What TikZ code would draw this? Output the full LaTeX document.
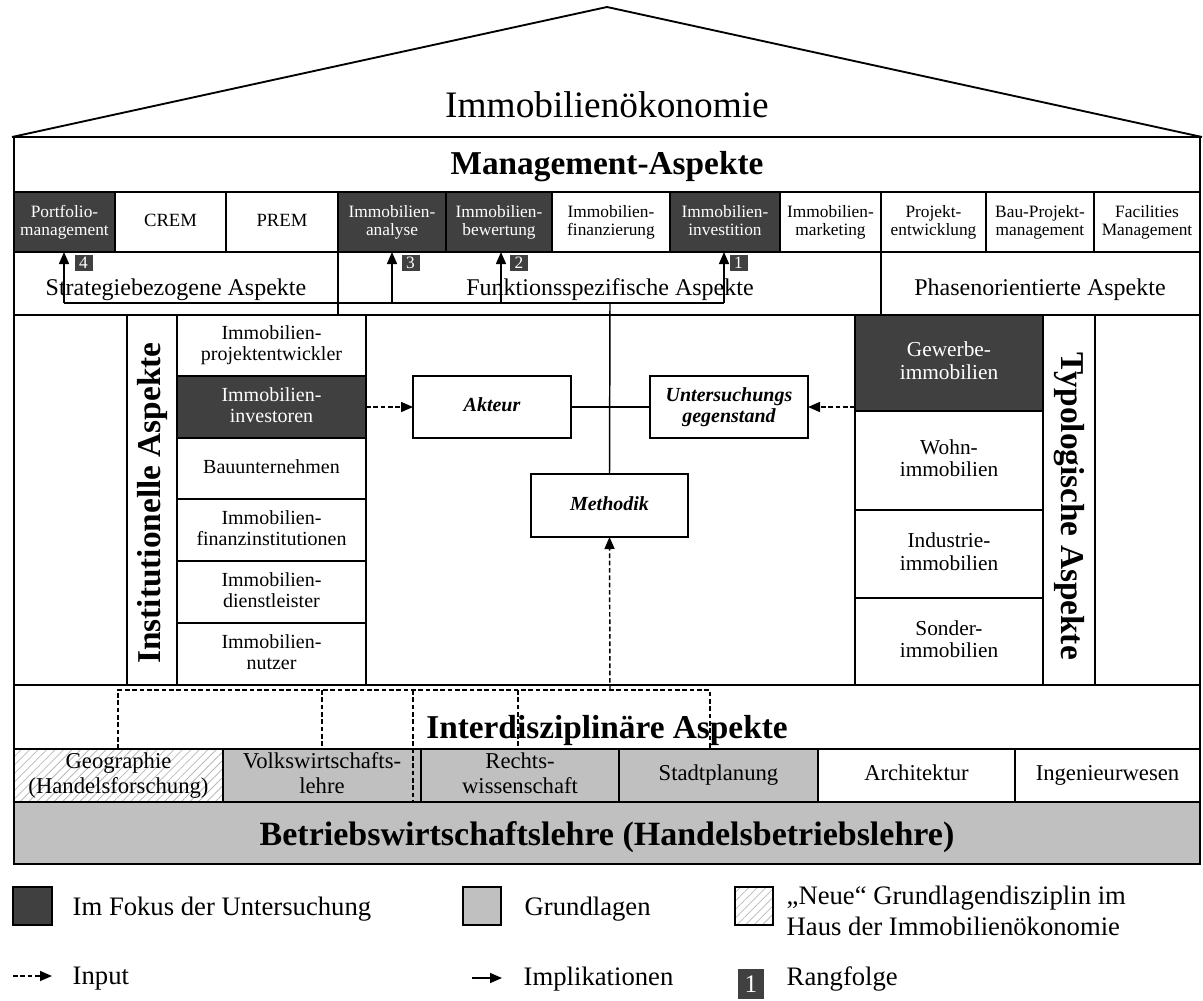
\documentclass[tikz,border=0pt]{standalone}
\usepackage{fontspec}
\setmainfont{Liberation Serif}
\usetikzlibrary{arrows.meta,patterns.meta}
\definecolor{focusgray}{HTML}{404040}
\definecolor{basisgray}{HTML}{C0C0C0}
% rectangular cell spanning (x1,y1)-(x2,y2) with centred text
\newcommand\cellnode[7]{\node[cell,#2,minimum width={(#5-#3)*0.75pt},minimum height={(#6-#4)*0.75pt}] (#1) at ({(#3+#5)/2},{(#4+#6)/2}) {\vphantom{Ag}#7\vphantom{Ag}};}
\begin{document}
\begin{tikzpicture}[x=0.75pt,y=-0.75pt,
  outline/.style={draw=black, line width=1.4pt},
  cell/.style={outline, inner sep=0pt, outer sep=0pt, align=center},
  focusbox/.style={fill=focusgray, text=white},
  basisbox/.style={fill=basisgray},
  novelbox/.style={pattern={Lines[angle=45,distance=4.5pt,line width=0.6pt]}, pattern color=gray!55},
  ftop/.style={font=\fontsize{13}{13.7}\selectfont},
  fcol/.style={font=\fontsize{15}{15.5}\selectfont},
  ftyp/.style={font=\fontsize{16}{17}\selectfont},
  fbase/.style={font=\fontsize{17}{18.5}\selectfont},
  frow/.style={font=\fontsize{18}{20}\selectfont},
  fhead/.style={font=\fontsize{25}{27}\selectfont\bfseries},
  froof/.style={font=\fontsize{28}{30}\selectfont},
  fkey/.style={font=\fontsize{20}{23}\selectfont},
  fcore/.style={font=\fontsize{15}{15.5}\selectfont\bfseries\itshape},
  conn/.style={line width=1.1pt},
  impl/.style={conn, -{Triangle[length=9pt,width=7.5pt]}},
  inarrow/.style={conn, dash pattern=on 3.5pt off 2pt, -{Triangle[length=9pt,width=7.5pt]}},
  feed/.style={line width=0.9pt, dash pattern=on 3.5pt off 2pt},
  badge/.style={fill=focusgray, text=white, inner sep=0pt, minimum width=13.5pt, minimum height=12.5pt, font=\fontsize{13}{13}\selectfont},
]
\useasboundingbox (0,0) rectangle (1203,1000);

% roof
\coordinate (roofL) at (12,137);
\coordinate (apex) at (607,7);
\coordinate (roofR) at (1202,137);
\draw[outline, line join=miter] (roofL) -- (apex) -- (roofR);
\node[froof, anchor=base] (title) at (607,117) {Immobilienökonomie};

% management aspects
\cellnode{mgmt}{}{14}{137}{1200}{192}{}
\node[fhead, anchor=base] (mgmttxt) at (607,174) {Management-Aspekte};

\cellnode{pf}{focusbox,ftop}{14}{192}{115}{252}{Portfolio-\\management}
\cellnode{crem}{font=\fontsize{14}{14}\selectfont}{115}{192}{226}{252}{CREM}
\cellnode{prem}{font=\fontsize{14}{14}\selectfont}{226}{192}{338}{252}{PREM}
\cellnode{ana}{focusbox,ftop}{338}{192}{446}{252}{Immobilien-\\analyse}
\cellnode{bew}{focusbox,ftop}{446}{192}{552}{252}{Immobilien-\\bewertung}
\cellnode{fin}{ftop}{552}{192}{670}{252}{Immobilien-\\finanzierung}
\cellnode{inv}{focusbox,ftop}{670}{192}{780}{252}{Immobilien-\\investition}
\cellnode{mkt}{ftop}{780}{192}{881}{252}{Immobilien-\\marketing}
\cellnode{pe}{ftop}{881}{192}{986}{252}{Projekt-\\entwicklung}
\cellnode{bpm}{ftop}{986}{192}{1094}{252}{Bau-Projekt-\\management}
\cellnode{fm}{ftop}{1094}{192}{1200}{252}{Facilities\\Management}

\cellnode{strat}{}{14}{252}{338}{315}{}
\cellnode{funk}{}{338}{252}{881}{315}{}
\cellnode{phase}{}{881}{252}{1200}{315}{}
\node[frow, anchor=base] (strattxt) at (176,295) {Strategiebezogene Aspekte};
\node[frow, anchor=base] (funktxt) at (610,295) {Funktionsspezifische Aspekte};
\node[frow, anchor=base] (phasetxt) at (1040,295) {Phasenorientierte Aspekte};

% middle storey
\cellnode{mid}{}{14}{315}{1200}{685}{}
\cellnode{inst}{}{127}{315}{177}{685}{}
\node[fhead, rotate=90] (insttxt) at (152,503) {Institutionelle Aspekte};
\cellnode{pew}{fcol}{177}{315}{366}{376}{Immobilien-\\projektentwickler}
\cellnode{invest}{focusbox,fcol}{177}{376}{366}{438}{Immobilien-\\investoren}
\cellnode{bau}{fcol}{177}{438}{366}{499}{Bauunternehmen}
\cellnode{finst}{fcol}{177}{499}{366}{561}{Immobilien-\\finanzinstitutionen}
\cellnode{dl}{fcol}{177}{561}{366}{623}{Immobilien-\\dienstleister}
\cellnode{nutz}{fcol}{177}{623}{366}{685}{Immobilien-\\nutzer}

\cellnode{gew}{focusbox,ftyp}{855}{315}{1043}{411}{Gewerbe-\\immobilien}
\cellnode{wohn}{ftyp}{855}{411}{1043}{510}{Wohn-\\immobilien}
\cellnode{ind}{ftyp}{855}{510}{1043}{598}{Industrie-\\immobilien}
\cellnode{sond}{ftyp}{855}{598}{1043}{685}{Sonder-\\immobilien}
\cellnode{typ}{}{1043}{315}{1095}{685}{}
\node[fhead, rotate=-90] (typtxt) at (1069,506) {Typologische Aspekte};

\cellnode{akteur}{fcore}{413}{376}{571}{438}{Akteur}
\cellnode{unters}{fcore}{650}{376}{808}{438}{Untersuchungs\\gegenstand}
\cellnode{meth}{fcore}{531}{474}{688}{537}{Methodik}

% interdisciplinary storey
\cellnode{inter}{}{14}{685}{1200}{749}{}
\node[fhead, anchor=base] (intertxt) at (607,738) {Interdisziplinäre Aspekte};
\cellnode{geo}{novelbox,fbase}{14}{749}{223}{802}{Geographie\\(Handelsforschung)}
\cellnode{vwl}{basisbox,fbase}{223}{749}{421}{802}{Volkswirtschafts-\\lehre}
\cellnode{rw}{basisbox,fbase}{421}{749}{619}{802}{Rechts-\\wissenschaft}
\cellnode{stp}{basisbox,fbase}{619}{749}{818}{802}{Stadtplanung}
\cellnode{arch}{fbase}{818}{749}{1015}{802}{Architektur}
\cellnode{ing}{fbase}{1015}{749}{1200}{802}{Ingenieurwesen}
\cellnode{bwl}{basisbox}{14}{802}{1200}{864}{}
\node[fhead, font=\fontsize{25.5}{27}\selectfont\bfseries, anchor=base] (bwltxt) at (607,845) {Betriebswirtschaftslehre (Handelsbetriebslehre)};

% implications from the method to the management fields
\coordinate (hub) at (610,303);
\coordinate (j4) at (64,303);
\coordinate (j3) at (392,303);
\coordinate (j2) at (501,303);
\coordinate (j1) at (724,303);
\draw[conn] (meth.north) -- (hub);
\draw[conn] (j4) -- (j1);
\draw[impl] (j4) -- (j4 |- pf.south);
\draw[impl] (j3) -- (j3 |- ana.south);
\draw[impl] (j2) -- (j2 |- bew.south);
\draw[impl] (j1) -- (j1 |- inv.south);
\node[badge] (b4) at (83.5,263) {4};
\node[badge] (b3) at (410.5,263) {3};
\node[badge] (b2) at (519,263) {2};
\node[badge] (b1) at (738.5,263) {1};

% core triangle
\draw[conn] (akteur.east) -- (unters.west);
\draw[inarrow] (invest.east) -- (akteur.west);
\draw[inarrow] (gew.west |- unters.east) -- (unters.east);

% disciplines feeding the method
\coordinate (dtop) at (610,690);
\coordinate (d1) at (118,690);
\coordinate (d2) at (322,690);
\coordinate (d3) at (413,690);
\coordinate (d4) at (518,690);
\coordinate (d5) at (710,690);
\draw[feed] (d1 |- geo.north) -- (d1) -- (d5) -- (d5 |- stp.north);
\draw[feed] (d2) -- (d2 |- vwl.north);
\draw[feed] (d3) -- (d3 |- vwl.south);
\draw[feed] (d4) -- (d4 |- rw.north);
\draw[inarrow] (dtop) -- (meth.south);

% key
\cellnode{keyfocus}{focusbox,line width=1pt}{13}{887}{52}{925}{}
\node[fkey, anchor=base west] (keyfocustxt) at (68,915) {Im Fokus der Untersuchung};
\cellnode{keybasis}{basisbox,line width=1pt}{463}{887}{501}{925}{}
\node[fkey, anchor=base west] (keybasistxt) at (520,915) {Grundlagen};
\cellnode{keynovel}{novelbox,line width=1pt}{735}{887}{773}{925}{}
\node[fkey, anchor=west, align=left, font=\fontsize{20}{23.5}\selectfont] (keynoveltxt) at (782,911) {„Neue“ Grundlagendisziplin im\\Haus der Immobilienökonomie};
\coordinate (inS) at (13,976);
\coordinate (inE) at (52,976);
\draw[inarrow] (inS) -- (inE);
\node[fkey, anchor=base west] (keyinput) at (68,984) {Input};
\coordinate (imS) at (472,978);
\coordinate (imE) at (502,978);
\draw[impl] (imS) -- (imE);
\node[fkey, anchor=base west] (keyimpl) at (519,985) {Implikationen};
\node[badge, minimum width=19.5pt, minimum height=22.5pt, font=\fontsize{19}{19}\selectfont] (keyrank) at (751,984) {1};
\node[fkey, anchor=base west] (keyranktxt) at (782,985) {Rangfolge};
\end{tikzpicture}
\end{document}
